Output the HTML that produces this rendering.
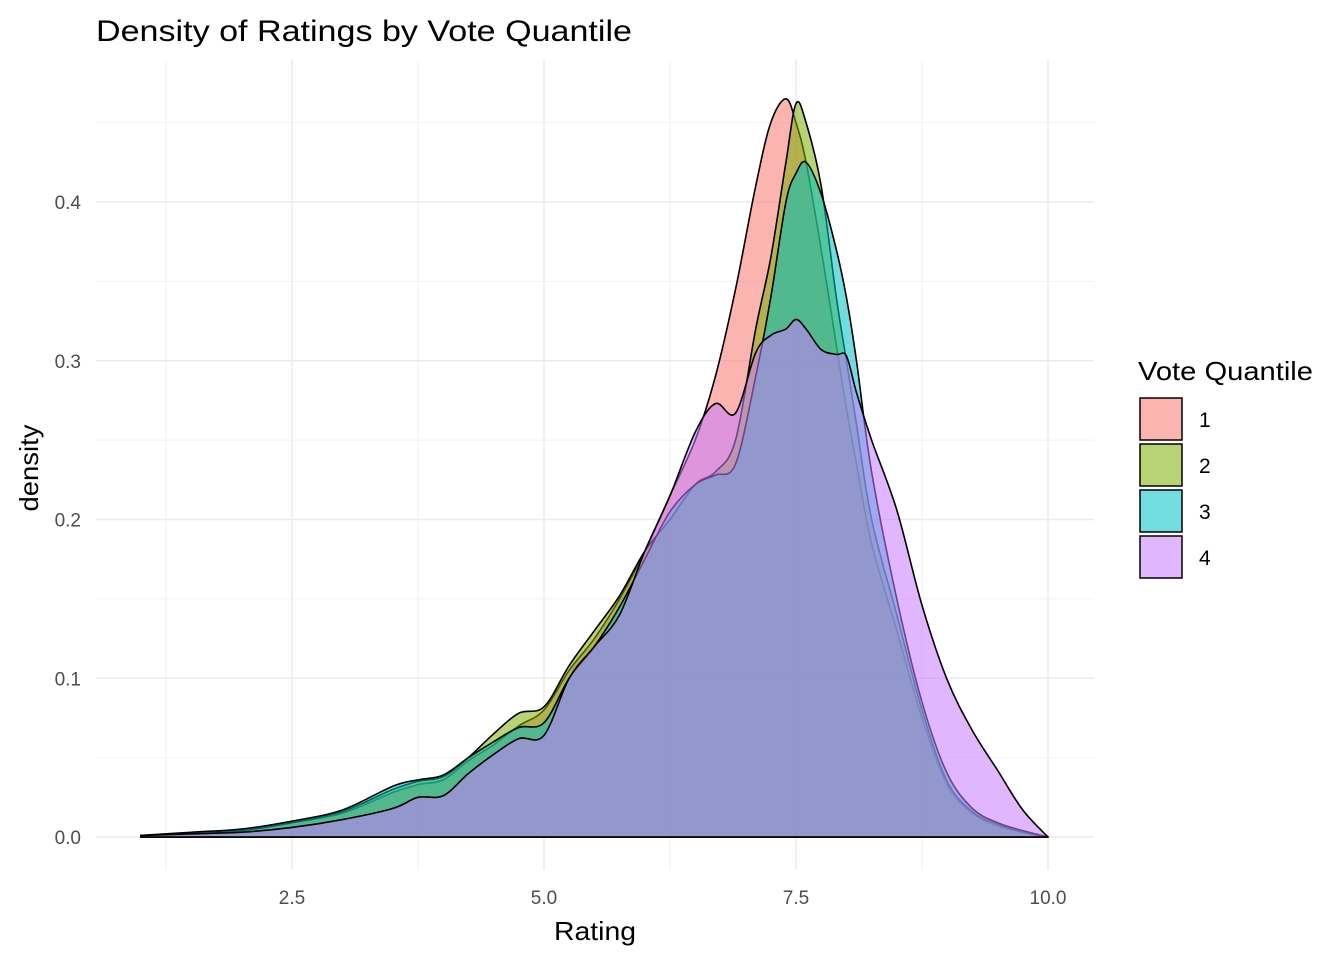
<!DOCTYPE html>
<html><head><meta charset="utf-8">
<style>
body{margin:0;background:#fff;}
svg text{font-family:"Liberation Sans",Arial,sans-serif;}
</style></head>
<body>
<svg id="chart" width="1344" height="960" viewBox="0 0 1344 960" xmlns="http://www.w3.org/2000/svg">
<text x="96" y="41" font-size="30" textLength="536" lengthAdjust="spacingAndGlyphs" fill="#000">Density of Ratings by Vote Quantile</text>
<g id="grid"></g>
<g id="areas"></g>
<g id="axes"></g>
<text x="595" y="940" font-size="26" textLength="82" lengthAdjust="spacingAndGlyphs" text-anchor="middle" fill="#000">Rating</text>
<text transform="translate(38,468) rotate(-90)" font-size="26" textLength="87" lengthAdjust="spacingAndGlyphs" text-anchor="middle" fill="#000">density</text>
<g id="legend">
<text x="1138" y="380" font-size="26" textLength="175" lengthAdjust="spacingAndGlyphs" fill="#000">Vote Quantile</text>
</g>
</svg>
<script>
const xs = [1,1.5,2,2.5,3,3.5,3.75,4,4.25,4.5,4.75,5,5.25,5.5,5.75,6,6.25,6.5,6.7,6.9,7.1,7.25,7.4,7.5,7.6,7.75,7.9,8.0,8.1,8.25,8.5,8.75,9,9.25,9.5,9.75,10];
const q1 = [0.001,0.002,0.004,0.009,0.015,0.028,0.033,0.036,0.048,0.058,0.07,0.08,0.105,0.125,0.15,0.18,0.215,0.25,0.29,0.345,0.41,0.45,0.465,0.45,0.425,0.37,0.31,0.27,0.235,0.185,0.13,0.075,0.033,0.015,0.007,0.003,0];
const q2 = [0.001,0.002,0.004,0.009,0.016,0.03,0.035,0.038,0.05,0.065,0.078,0.082,0.108,0.13,0.152,0.18,0.2,0.222,0.23,0.25,0.32,0.365,0.425,0.462,0.45,0.41,0.34,0.3,0.26,0.2,0.14,0.08,0.035,0.016,0.008,0.003,0];
const q3 = [0.001,0.003,0.005,0.01,0.017,0.032,0.036,0.039,0.05,0.06,0.069,0.072,0.1,0.12,0.145,0.175,0.205,0.222,0.228,0.235,0.29,0.34,0.4,0.418,0.425,0.405,0.37,0.34,0.30,0.23,0.15,0.085,0.04,0.018,0.009,0.004,0];
const q4 = [0.001,0.002,0.003,0.006,0.011,0.018,0.025,0.026,0.04,0.052,0.062,0.064,0.1,0.12,0.14,0.18,0.215,0.255,0.273,0.267,0.305,0.316,0.32,0.326,0.32,0.307,0.304,0.303,0.28,0.25,0.206,0.146,0.099,0.067,0.042,0.017,0];
const seriesLabels = ["1","2","3","4"];
const seriesColors = ["#F8766D","#7CAE00","#00BFC4","#C77CFF"];
const xTicks = [2.5,5.0,7.5,10.0];
const xTickLabels = ["2.5","5.0","7.5","10.0"];
const yTicks = [0,0.1,0.2,0.3,0.4];
const yTickLabels = ["0.0","0.1","0.2","0.3","0.4"];

const NS="http://www.w3.org/2000/svg";
const X = v => 40 + v*100.8;
const Y = v => 837 - v*1587.5;
const PL=96, PR=1094, PT=60, PB=870;
function mk(tag, attrs, parent){const e=document.createElementNS(NS,tag);for(const k in attrs)e.setAttribute(k,attrs[k]);parent.appendChild(e);return e;}
const grid=document.getElementById('grid');
[1.25,3.75,6.25,8.75].forEach(v=>{const l=mk('line',{x1:X(v),x2:X(v),y1:PT,y2:PB,stroke:'#f2f2f2','stroke-width':1},grid);

});
[0.05,0.15,0.25,0.35,0.45].forEach(v=>{const l=mk('line',{x1:PL,x2:PR,y1:Y(v),y2:Y(v),stroke:'#f2f2f2','stroke-width':1},grid);

});
xTicks.forEach(v=>{const l=mk('line',{x1:X(v),x2:X(v),y1:PT,y2:PB,stroke:'#ebebeb','stroke-width':1.6},grid);

});
yTicks.forEach(v=>{const l=mk('line',{x1:PL,x2:PR,y1:Y(v),y2:Y(v),stroke:'#ebebeb','stroke-width':1.6},grid);

});
const axes=document.getElementById('axes');
xTicks.forEach((v,i)=>{const t=mk('text',{x:X(v),y:904,'font-size':19,'text-anchor':'middle',fill:'#4d4d4d'},axes);t.textContent=xTickLabels[i];

});
yTicks.forEach((v,i)=>{const t=mk('text',{x:81,y:Y(v)+7,'font-size':19,'text-anchor':'end',fill:'#4d4d4d'},axes);t.textContent=yTickLabels[i];

});
function smoothPath(vals){
  const pts=xs.map((x,i)=>[X(x),Y(vals[i])]);
  let d=`M${pts[0][0]},${Y(0)} L${pts[0][0]},${pts[0][1]}`;
  for(let i=0;i<pts.length-1;i++){
    const p0=pts[Math.max(0,i-1)],p1=pts[i],p2=pts[i+1],p3=pts[Math.min(pts.length-1,i+2)];
    let c1y=p1[1]+(p2[1]-p0[1])/6, c2y=p2[1]-(p3[1]-p1[1])/6;
    c1y=Math.min(c1y,Y(0)); c2y=Math.min(c2y,Y(0));
    d+=` C${p1[0]+(p2[0]-p0[0])/6},${c1y} ${p2[0]-(p3[0]-p1[0])/6},${c2y} ${p2[0]},${p2[1]}`;
  }
  d+=` L${pts[pts.length-1][0]},${Y(0)} Z`;
  return d;
}
const areas=document.getElementById('areas');
[q1,q2,q3,q4].forEach((s,i)=>{
  const p=mk('path',{d:smoothPath(s),fill:seriesColors[i],'fill-opacity':0.55,stroke:'#000','stroke-width':1.6,'stroke-linejoin':'round'},areas);
  
  
});
const legend=document.getElementById('legend');
seriesLabels.forEach((lab,i)=>{
  const y=398+i*46;
  const r=mk('rect',{x:1140,y:y,width:42,height:42,fill:seriesColors[i],'fill-opacity':0.55,stroke:'#000','stroke-width':1.5},legend);
  
  
  const t=mk('text',{x:1199,y:y+29,'font-size':21,fill:'#000'},legend);t.textContent=lab;
  
  
});
</script>
</body></html>
